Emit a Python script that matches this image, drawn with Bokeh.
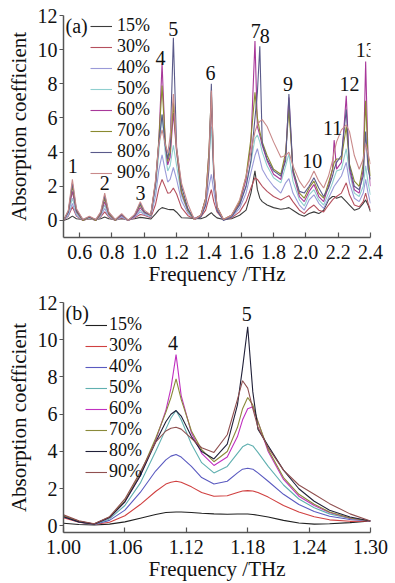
from bokeh.plotting import figure
from bokeh.models import (Range1d, FixedTicker, PrintfTickFormatter, Legend,
                          LegendItem, Label, ColumnDataSource)
from bokeh.layouts import column
from bokeh.core.properties import value
from bokeh.embed import file_html
from bokeh.resources import INLINE

# ---------------- data ----------------
SERIES = ["15%", "30%", "40%", "50%", "60%", "70%", "80%", "90%"]

# Panel (a): 0.5 - 2.4 THz
A_FREQ = [0.50, 0.53, 0.555, 0.58, 0.62, 0.66, 0.70, 0.73, 0.755, 0.78,
          0.82, 0.86, 0.90, 0.94, 0.975, 1.00, 1.04, 1.07, 1.09, 1.11,
          1.13, 1.145, 1.16, 1.18, 1.20, 1.23, 1.27, 1.31, 1.35, 1.38,
          1.40, 1.415, 1.43, 1.45, 1.49, 1.54, 1.59, 1.63, 1.66, 1.685,
          1.70, 1.715, 1.73, 1.76, 1.80, 1.845, 1.875, 1.895, 1.92, 1.96,
          1.99, 2.02, 2.05, 2.08, 2.11, 2.14, 2.165, 2.175, 2.19, 2.22,
          2.25, 2.27, 2.30, 2.33, 2.355, 2.37, 2.385, 2.40]

A15 = [0.00, 0.10, 0.25, 0.10, 0.05, 0.10, 0.05, 0.10, 0.20, 0.10,
       0.05, 0.10, 0.05, 0.10, 0.18, 0.15, 0.08, 0.38, 0.62, 0.75,
       0.70, 0.65, 0.63, 0.64, 0.48, 0.16, 0.14, 0.12, 0.10, 0.20,
       0.35, 0.45, 0.30, 0.15, 0.05, 0.10, 0.30, 0.60, 1.60, 2.90,
       1.80, 1.30, 1.10, 0.90, 0.75, 0.65, 0.70, 0.75, 0.60, 0.35,
       0.25, 0.40, 0.50, 0.40, 0.60, 1.20, 1.40, 1.40, 1.30, 1.40,
       1.10, 0.90, 0.60, 0.70, 1.00, 1.20, 0.90, 0.50]
A30 = [0.00, 0.25, 0.80, 0.25, 0.00, 0.12, 0.00, 0.20, 0.50, 0.20,
       0.00, 0.15, 0.00, 0.15, 0.35, 0.30, 0.15, 0.95, 1.85, 2.40,
       1.95, 1.60, 1.62, 1.90, 1.55, 0.75, 0.28, 0.10, 0.20, 0.60,
       1.30, 1.80, 1.10, 0.50, 0.05, 0.15, 0.50, 1.10, 1.90, 2.50,
       2.40, 2.20, 2.00, 1.70, 1.40, 1.20, 1.35, 1.45, 1.10, 0.60,
       0.40, 0.70, 0.90, 0.60, 0.50, 0.90, 1.20, 1.30, 1.40, 1.60,
       2.20, 1.50, 0.90, 0.80, 1.10, 1.60, 1.00, 0.60]
A40 = [0.00, 0.30, 1.00, 0.30, 0.00, 0.15, 0.00, 0.25, 0.70, 0.25,
       0.00, 0.20, 0.00, 0.20, 0.50, 0.35, 0.20, 1.45, 2.95, 3.84,
       2.90, 2.25, 2.40, 3.10, 2.40, 1.15, 0.42, 0.10, 0.25, 0.90,
       2.00, 2.70, 1.70, 0.60, 0.05, 0.20, 0.70, 1.60, 2.80, 3.80,
       4.20, 3.60, 3.00, 2.50, 2.00, 1.60, 2.20, 2.45, 1.60, 0.90,
       0.60, 1.20, 1.50, 1.00, 0.70, 1.30, 1.80, 2.00, 2.20, 2.60,
       3.40, 2.20, 1.30, 1.10, 1.60, 2.40, 1.60, 1.00]
A50 = [0.00, 0.40, 1.30, 0.40, 0.00, 0.15, 0.00, 0.30, 0.90, 0.30,
       0.00, 0.25, 0.00, 0.25, 0.60, 0.40, 0.25, 1.85, 4.00, 6.20,
       3.90, 2.90, 3.20, 4.40, 3.20, 1.45, 0.52, 0.10, 0.30, 1.20,
       3.50, 5.50, 2.50, 0.70, 0.05, 0.25, 0.90, 2.00, 3.40, 4.80,
       5.00, 4.60, 4.00, 3.20, 2.50, 2.20, 3.20, 3.90, 2.30, 1.20,
       0.85, 1.50, 1.80, 1.20, 0.90, 1.60, 2.20, 2.50, 2.90, 3.00,
       4.20, 2.80, 1.60, 1.40, 2.00, 3.20, 2.20, 1.50]
A60 = [0.00, 0.50, 1.70, 0.50, 0.00, 0.20, 0.00, 0.35, 1.10, 0.35,
       0.00, 0.30, 0.00, 0.25, 0.75, 0.45, 0.30, 2.20, 4.60, 9.20,
       4.40, 3.25, 3.70, 6.30, 4.00, 1.60, 0.58, 0.10, 0.30, 1.30,
       4.00, 7.00, 2.80, 0.80, 0.05, 0.30, 1.00, 2.40, 4.50, 10.50,
       5.50, 5.00, 4.40, 3.50, 2.70, 2.40, 3.80, 7.20, 2.80, 1.40,
       1.10, 1.70, 2.10, 1.40, 1.10, 2.00, 3.00, 4.70, 3.00, 3.40,
       7.30, 3.00, 1.80, 1.60, 3.00, 9.30, 3.50, 2.00]
A70 = [0.00, 0.55, 2.00, 0.55, 0.00, 0.20, 0.00, 0.40, 1.30, 0.40,
       0.00, 0.35, 0.00, 0.30, 0.90, 0.50, 0.30, 2.30, 4.70, 7.90,
       4.60, 3.45, 4.00, 6.90, 4.10, 1.70, 0.60, 0.05, 0.30, 1.30,
       4.00, 7.50, 2.90, 0.80, 0.05, 0.30, 1.10, 2.60, 4.80, 7.50,
       6.00, 5.20, 4.60, 3.80, 3.00, 2.70, 4.00, 6.50, 3.00, 1.60,
       1.30, 1.90, 2.30, 1.60, 1.30, 2.20, 3.00, 3.40, 3.60, 3.60,
       5.50, 3.30, 2.30, 2.00, 3.30, 7.00, 3.60, 2.60]
A80 = [0.00, 0.50, 2.20, 0.60, 0.05, 0.20, 0.05, 0.45, 1.45, 0.45,
       0.05, 0.35, 0.00, 0.30, 1.00, 0.50, 0.30, 2.20, 4.50, 6.20,
       4.40, 3.60, 4.40, 10.70, 4.30, 2.00, 0.68, 0.05, 0.20, 0.90,
       3.00, 8.00, 2.60, 0.60, 0.00, 0.20, 0.90, 2.00, 3.50, 6.00,
       7.50, 10.20, 4.50, 3.60, 2.90, 2.60, 3.50, 7.40, 2.90, 1.70,
       1.60, 2.00, 2.50, 1.90, 1.40, 1.90, 2.60, 3.00, 3.40, 3.80,
       6.50, 3.20, 2.00, 1.80, 2.60, 5.20, 3.00, 2.40]
A90 = [0.00, 0.60, 2.40, 0.70, 0.05, 0.25, 0.05, 0.50, 1.60, 0.50,
       0.05, 0.40, 0.00, 0.35, 1.10, 0.60, 0.32, 2.40, 4.50, 5.30,
       4.45, 3.95, 4.90, 7.40, 4.20, 2.20, 0.95, 0.05, 0.30, 1.20,
       3.50, 7.60, 3.00, 0.80, 0.05, 0.30, 1.20, 2.60, 4.00, 5.20,
       5.60, 5.80, 5.90, 5.50, 4.60, 3.70, 3.80, 4.00, 3.20, 2.30,
       1.90, 2.30, 2.90, 2.30, 1.90, 2.60, 3.50, 4.00, 4.60, 5.30,
       5.60, 5.20, 3.80, 3.00, 3.60, 4.50, 3.90, 3.30]
A_VALUES = [A15, A30, A40, A50, A60, A70, A80, A90]

A_PEAK_TEXT = ["1", "2", "3", "4", "5", "6", "7", "8", "9", "10", "11", "12", "13"]
A_PEAK_FREQ = [0.557, 0.755, 0.977, 1.10, 1.18, 1.41, 1.69, 1.745, 1.89, 2.04, 2.165, 2.27, 2.37]
A_PEAK_Y = [3.2, 2.2, 1.6, 9.5, 11.2, 8.65, 11.1, 10.8, 8.0, 3.5, 5.4, 8.0, 10.0]

# Panel (b): 1.00 - 1.30 THz
B_FREQ = [1.000, 1.015, 1.030, 1.045, 1.060, 1.075, 1.090, 1.100, 1.105, 1.110,
          1.115, 1.125, 1.135, 1.147, 1.160, 1.170, 1.175, 1.180, 1.185, 1.190,
          1.200, 1.215, 1.230, 1.245, 1.260, 1.280, 1.300]
B15 = [0.15, 0.08, 0.05, 0.10, 0.22, 0.42, 0.62, 0.72, 0.74, 0.75, 0.75, 0.72, 0.68, 0.65,
       0.63, 0.64, 0.64, 0.64, 0.62, 0.58, 0.48, 0.30, 0.16, 0.10, 0.12, 0.18, 0.27]
B30 = [0.45, 0.20, 0.08, 0.20, 0.55, 1.15, 1.85, 2.25, 2.35, 2.40, 2.35, 2.10, 1.80, 1.60,
       1.62, 1.80, 1.88, 1.90, 1.88, 1.80, 1.55, 1.10, 0.75, 0.50, 0.33, 0.25, 0.27]
B40 = [0.50, 0.22, 0.08, 0.30, 0.85, 1.80, 2.95, 3.55, 3.75, 3.84, 3.70, 3.20, 2.60, 2.25,
       2.40, 2.85, 3.05, 3.10, 3.05, 2.85, 2.40, 1.70, 1.15, 0.78, 0.52, 0.35, 0.27]
B50 = [0.55, 0.25, 0.08, 0.38, 1.10, 2.30, 4.00, 5.20, 5.80, 6.20, 5.70, 4.40, 3.40, 2.85,
       3.20, 3.90, 4.25, 4.40, 4.30, 3.95, 3.20, 2.20, 1.45, 0.98, 0.65, 0.40, 0.27]
B60 = [0.55, 0.25, 0.10, 0.45, 1.30, 2.70, 4.60, 6.20, 7.40, 9.20, 7.00, 5.00, 3.90, 3.25,
       3.70, 4.80, 5.70, 6.30, 6.40, 5.60, 4.00, 2.50, 1.60, 1.10, 0.72, 0.42, 0.27]
B70 = [0.55, 0.25, 0.10, 0.48, 1.35, 2.80, 4.70, 6.10, 6.90, 7.90, 6.80, 5.10, 4.10, 3.45,
       4.00, 5.30, 6.30, 6.90, 6.50, 5.60, 4.10, 2.60, 1.70, 1.17, 0.75, 0.43, 0.27]
B80 = [0.50, 0.22, 0.10, 0.45, 1.30, 2.70, 4.50, 5.60, 6.00, 6.20, 5.90, 4.80, 4.00, 3.60,
       4.40, 6.50, 8.50, 10.70, 7.20, 5.20, 4.30, 3.00, 2.00, 1.33, 0.85, 0.48, 0.27]
B90 = [0.60, 0.28, 0.12, 0.50, 1.45, 2.90, 4.50, 5.10, 5.25, 5.30, 5.20, 4.70, 4.20, 3.95,
       4.90, 6.80, 7.80, 7.40, 6.30, 5.30, 4.20, 3.00, 2.20, 1.70, 1.20, 0.65, 0.27]
B_VALUES = [B15, B30, B40, B50, B60, B70, B80, B90]

B_PEAK_TEXT = ["4", "5"]
B_PEAK_FREQ = [1.107, 1.179]
B_PEAK_Y = [9.8, 11.4]

A_XTICKS = [0.6, 0.8, 1.0, 1.2, 1.4, 1.6, 1.8, 2.0, 2.2, 2.4]
B_XTICKS = [1.00, 1.06, 1.12, 1.18, 1.24, 1.30]
YTICKS = [0, 2, 4, 6, 8, 10, 12]

# ---------------- styling ----------------
FONT = "Liberation Serif"
FS = "20px"
AXFS = "21px"
LEGFS = "18px"
A_COLORS = ["#3c3c3c", "#b5505e", "#9a9ad8", "#8fcfcf", "#a8389a", "#8a8a30", "#5a5a8a", "#c98a8a"]
B_COLORS = ["#202020", "#d04040", "#5a5ac0", "#60b0b0", "#c030c0", "#8a8a3a", "#202038", "#905050"]


def make_panel(freq, values, colors, xr, yr, xticks, xfmt, tag, peak_t, peak_f, peak_y,
               height, top, leg_loc, leg_standoff):
    p = figure(width=390, height=height, output_backend="svg", toolbar_location=None,
               x_range=Range1d(*xr), y_range=Range1d(*yr),
               min_border_left=63, min_border_right=20, min_border_top=top,
               min_border_bottom=10)
    p.outline_line_color = None
    p.xgrid.grid_line_color = None
    p.ygrid.grid_line_color = None
    p.background_fill_color = "white"
    p.border_fill_color = "white"

    items = []
    for name, vals, c in zip(SERIES, values, colors):
        r = p.line(freq, vals, line_color=c, line_width=1.1)
        items.append(LegendItem(label=name, renderers=[r]))

    src = ColumnDataSource(dict(f=peak_f, v=peak_y, t=peak_t))
    p.text(x="f", y="v", text="t", source=src, text_font=value(FONT),
           text_font_size=FS, text_align="center", text_baseline="middle",
           text_color="#111111")

    p.xaxis.ticker = FixedTicker(ticks=xticks)
    p.xaxis.formatter = PrintfTickFormatter(format=xfmt)
    p.yaxis.ticker = FixedTicker(ticks=YTICKS)
    p.yaxis.formatter = PrintfTickFormatter(format="%d")
    p.xaxis.axis_label = "Frequency /THz"
    p.yaxis.axis_label = "Absorption coefficient"
    for ax in (p.xaxis[0], p.yaxis[0]):
        ax.axis_line_color = "#555555"
        ax.axis_line_width = 1.5
        ax.major_tick_line_color = "#555555"
        ax.major_tick_line_width = 1.2
        ax.minor_tick_line_color = None
        ax.major_label_text_font = FONT
        ax.major_label_text_font_size = FS
        ax.major_label_text_color = "#111111"
        ax.axis_label_text_font = FONT
        ax.axis_label_text_font_size = AXFS
        ax.axis_label_text_font_style = "normal"
        ax.axis_label_text_color = "#111111"
    p.xaxis.major_tick_in = 5
    p.xaxis.major_tick_out = 0
    p.xaxis.major_label_standoff = 7
    p.xaxis.axis_label_standoff = 0
    p.yaxis.major_tick_in = 0
    p.yaxis.major_tick_out = 4
    p.yaxis.major_label_standoff = 2
    p.yaxis.axis_label_standoff = 4

    legend = Legend(items=items, location=leg_loc, orientation="vertical",
                    background_fill_alpha=0, border_line_color=None,
                    padding=0, margin=0, spacing=0, glyph_width=22, glyph_height=20,
                    label_height=20, label_standoff=leg_standoff,
                    label_text_font=FONT, label_text_font_size=LEGFS,
                    label_text_color="#111111")
    p.add_layout(legend)

    p.add_layout(Label(x=xr[0], y=yr[1], x_offset=2, y_offset=1, text=tag,
                       text_font=FONT, text_font_size=FS, text_baseline="top",
                       text_color="#111111"))
    return p


pa = make_panel(A_FREQ, A_VALUES, A_COLORS, (0.5, 2.4), (-1.0, 12.0), A_XTICKS, "%.1f", "(a)",
                A_PEAK_TEXT, A_PEAK_FREQ, A_PEAK_Y, 288, 15, (27, 54), 5)
pb = make_panel(B_FREQ, B_VALUES, B_COLORS, (1.0, 1.3), (-0.35, 12.0), B_XTICKS, "%.2f", "(b)",
                B_PEAK_TEXT, B_PEAK_FREQ, B_PEAK_Y, 295, 14, (22, 50), 2)

layout = column(pa, pb, spacing=0)
open("out.html", "w").write(file_html(layout, INLINE))
